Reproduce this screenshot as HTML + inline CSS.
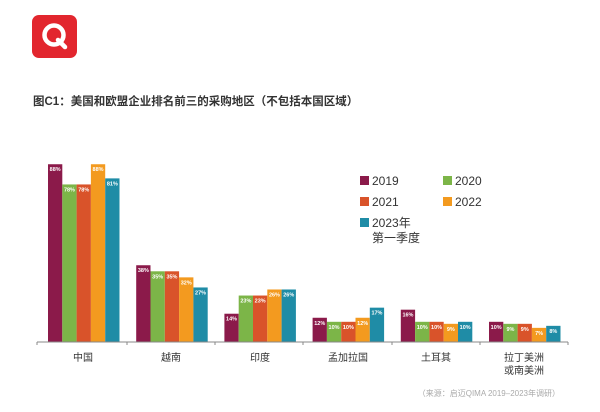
<!DOCTYPE html>
<html><head><meta charset="utf-8"><style>
body{margin:0;background:#fff;width:600px;height:407px;overflow:hidden}
text{font-family:"Liberation Sans","Noto Sans CJK SC",sans-serif}
.l{font-size:5.5px;font-weight:bold;fill:#fff;text-anchor:middle}
</style></head><body>
<svg width="600" height="407" viewBox="0 0 600 407" xmlns="http://www.w3.org/2000/svg">
<rect x="32" y="15" width="45" height="43" rx="7" fill="#e2262e"/>
<circle cx="54" cy="35" r="9.5" fill="none" stroke="#fff" stroke-width="4.5"/>
<line x1="58" y1="40" x2="65" y2="47" stroke="#fff" stroke-width="4.5" stroke-linecap="round"/>
<text x="33" y="105" font-size="11.5" font-weight="bold" fill="#333">图C1：美国和欧盟企业排名前三的采购地区（不包括本国区域）</text>
<g>
<rect x="48" y="164.24" width="14.3" height="177.76" fill="#8b1a4a"/>
<rect x="62.3" y="184.44" width="14.3" height="157.56" fill="#7cb548"/>
<rect x="76.6" y="184.44" width="14.3" height="157.56" fill="#d9532a"/>
<rect x="90.9" y="164.24" width="14.3" height="177.76" fill="#f39a1f"/>
<rect x="105.2" y="178.38" width="14.3" height="163.62" fill="#1f8ca6"/>
<rect x="136.2" y="265.24" width="14.3" height="76.76" fill="#8b1a4a"/>
<rect x="150.5" y="271.3" width="14.3" height="70.7" fill="#7cb548"/>
<rect x="164.8" y="271.3" width="14.3" height="70.7" fill="#d9532a"/>
<rect x="179.1" y="277.36" width="14.3" height="64.64" fill="#f39a1f"/>
<rect x="193.4" y="287.46" width="14.3" height="54.54" fill="#1f8ca6"/>
<rect x="224.4" y="313.72" width="14.3" height="28.28" fill="#8b1a4a"/>
<rect x="238.7" y="295.54" width="14.3" height="46.46" fill="#7cb548"/>
<rect x="253" y="295.54" width="14.3" height="46.46" fill="#d9532a"/>
<rect x="267.3" y="289.48" width="14.3" height="52.52" fill="#f39a1f"/>
<rect x="281.6" y="289.48" width="14.3" height="52.52" fill="#1f8ca6"/>
<rect x="312.6" y="317.76" width="14.3" height="24.24" fill="#8b1a4a"/>
<rect x="326.9" y="321.8" width="14.3" height="20.2" fill="#7cb548"/>
<rect x="341.2" y="321.8" width="14.3" height="20.2" fill="#d9532a"/>
<rect x="355.5" y="317.76" width="14.3" height="24.24" fill="#f39a1f"/>
<rect x="369.8" y="307.66" width="14.3" height="34.34" fill="#1f8ca6"/>
<rect x="400.8" y="309.68" width="14.3" height="32.32" fill="#8b1a4a"/>
<rect x="415.1" y="321.8" width="14.3" height="20.2" fill="#7cb548"/>
<rect x="429.4" y="321.8" width="14.3" height="20.2" fill="#d9532a"/>
<rect x="443.7" y="323.82" width="14.3" height="18.18" fill="#f39a1f"/>
<rect x="458" y="321.8" width="14.3" height="20.2" fill="#1f8ca6"/>
<rect x="489" y="321.8" width="14.3" height="20.2" fill="#8b1a4a"/>
<rect x="503.3" y="323.82" width="14.3" height="18.18" fill="#7cb548"/>
<rect x="517.6" y="323.82" width="14.3" height="18.18" fill="#d9532a"/>
<rect x="531.9" y="327.86" width="14.3" height="14.14" fill="#f39a1f"/>
<rect x="546.2" y="325.84" width="14.3" height="16.16" fill="#1f8ca6"/>
</g>
<g class="l">
<text class="l" x="55.15" y="171.2">88%</text><text class="l" x="69.45" y="191.4">78%</text><text class="l" x="83.75" y="191.4">78%</text><text class="l" x="98.05" y="171.2">88%</text><text class="l" x="112.35" y="185.4">81%</text>
<text class="l" x="143.35" y="272.2">38%</text><text class="l" x="157.65" y="278.3">35%</text><text class="l" x="171.95" y="278.3">35%</text><text class="l" x="186.25" y="284.4">32%</text><text class="l" x="200.55" y="294.5">27%</text>
<text class="l" x="231.55" y="320.7">14%</text><text class="l" x="245.85" y="302.5">23%</text><text class="l" x="260.15" y="302.5">23%</text><text class="l" x="274.45" y="296.5">26%</text><text class="l" x="288.75" y="296.5">26%</text>
<text class="l" x="319.75" y="324.8">12%</text><text class="l" x="334.05" y="328.8">10%</text><text class="l" x="348.35" y="328.8">10%</text><text class="l" x="362.65" y="324.8">12%</text><text class="l" x="376.95" y="314.7">17%</text>
<text class="l" x="407.95" y="316.7">16%</text><text class="l" x="422.25" y="328.8">10%</text><text class="l" x="436.55" y="328.8">10%</text><text class="l" x="450.85" y="330.8">9%</text><text class="l" x="465.15" y="328.8">10%</text>
<text class="l" x="496.15" y="328.8">10%</text><text class="l" x="510.45" y="330.8">9%</text><text class="l" x="524.75" y="330.8">9%</text><text class="l" x="539.05" y="334.9">7%</text><text class="l" x="553.35" y="332.8">8%</text>
</g>
<line x1="37" y1="342" x2="568" y2="342" stroke="#888" stroke-width="1"/>
<g stroke="#888" stroke-width="1">
<line x1="37" y1="342" x2="37" y2="345"/><line x1="127" y1="342" x2="127" y2="345"/><line x1="215" y1="342" x2="215" y2="345"/><line x1="303" y1="342" x2="303" y2="345"/><line x1="392" y1="342" x2="392" y2="345"/><line x1="480" y1="342" x2="480" y2="345"/><line x1="568" y1="342" x2="568" y2="345"/>
</g>
<g font-size="10" fill="#333" text-anchor="middle">
<text x="83" y="361">中国</text><text x="171" y="361">越南</text><text x="260" y="361">印度</text><text x="348" y="361">孟加拉国</text><text x="436" y="361">土耳其</text><text x="524" y="361">拉丁美洲</text><text x="524" y="374">或南美洲</text>
</g>
<text x="560" y="396" font-size="8" fill="#aaa" text-anchor="end">（来源：启迈QIMA 2019–2023年调研）</text>
<g font-size="12" fill="#333">
<rect x="360" y="176" width="9" height="9" fill="#8b1a4a"/><text x="372" y="185">2019</text>
<rect x="443" y="176" width="9" height="9" fill="#7cb548"/><text x="455" y="185">2020</text>
<rect x="360" y="197" width="9" height="9" fill="#d9532a"/><text x="372" y="206">2021</text>
<rect x="443" y="197" width="9" height="9" fill="#f39a1f"/><text x="455" y="206">2022</text>
<rect x="360" y="218" width="9" height="9" fill="#1f8ca6"/><text x="372" y="227">2023年</text>
<text x="372" y="242">第一季度</text>
</g>
</svg>
</body></html>
